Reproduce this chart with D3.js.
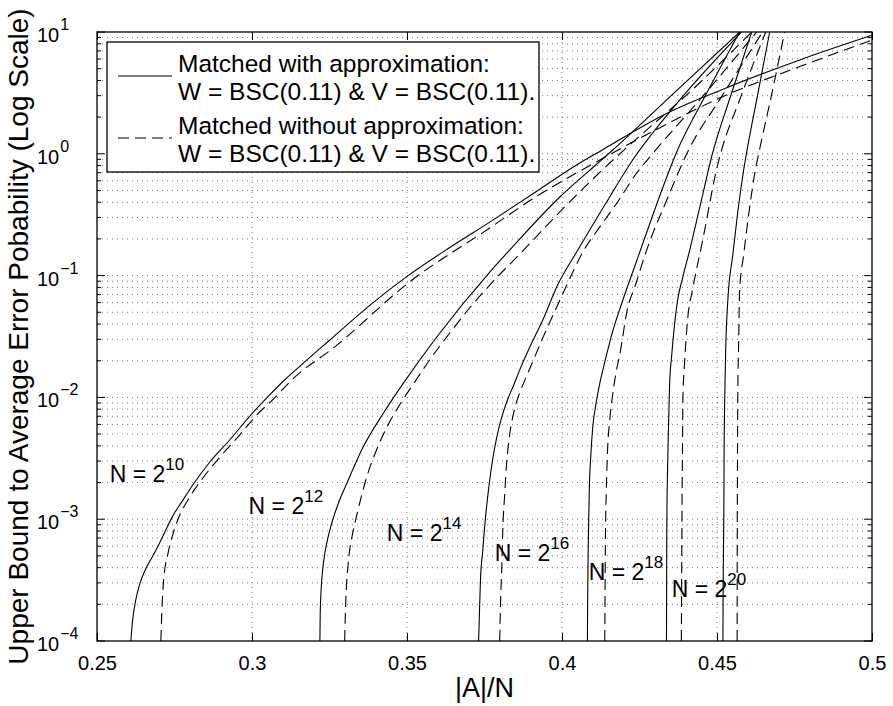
<!DOCTYPE html>
<html>
<head>
<meta charset="utf-8">
<script src="https://cdn.jsdelivr.net/npm/d3@7"></script>
<style>
  html, body { margin: 0; padding: 0; background: #fff; }
  svg { display: block; font-family: "Liberation Sans", Arial, Helvetica, sans-serif; }
</style>
</head>
<body>
<svg id="chart"></svg>
<script>
// ---- data: x = |A|/N, y = upper bound (log scale) ----
const xTicks = [0.25, 0.3, 0.35, 0.4, 0.45, 0.5];
const yExponents = [-4, -3, -2, -1, 0, 1];

const approx10 = [[0.2609,1e-4],[0.2615,1.49e-4],[0.2625,2.17e-4],[0.2638,2.94e-4],[0.2657,3.9e-4],[0.2680,4.99e-4],[0.2702,6.38e-4],[0.2722,8.15e-4],[0.2744,1.06e-3],[0.2773,1.38e-3],[0.2809,1.91e-3],[0.2864,2.95e-3],[0.2928,4.47e-3],[0.2993,7.03e-3],[0.3057,1.05e-2],[0.3105,1.39e-2],[0.3154,1.8e-2],[0.3251,2.96e-2],[0.3380,5.7e-2],[0.3499,9.8e-2],[0.3638,0.17],[0.3767,0.275],[0.3905,0.468],[0.4047,0.81],[0.4131,1.08],[0.4251,1.63],[0.4347,2.2],[0.4508,3.3],[0.4767,5.9],[0.5,9.4]];
const exact10 = [[0.2706,1e-4],[0.2709,1.7e-4],[0.2715,3.17e-4],[0.2728,5.1e-4],[0.2744,7.4e-4],[0.2760,9.8e-4],[0.2799,1.52e-3],[0.2844,2.22e-3],[0.2902,3.36e-3],[0.2960,4.91e-3],[0.3015,7.16e-3],[0.3073,9.9e-3],[0.3128,1.39e-2],[0.3267,2.6e-2],[0.3509,8.9e-2],[0.3767,0.246],[0.3905,0.426],[0.4122,0.889],[0.4283,1.48],[0.4508,2.87],[0.4767,5.2],[0.5,8.6]];

const approx12 = [[0.3219,1e-4],[0.3220,1.63e-4],[0.3223,2.62e-4],[0.3228,3.83e-4],[0.3235,5.28e-4],[0.3247,7.4e-4],[0.3260,9.8e-4],[0.3279,1.36e-3],[0.3305,1.95e-3],[0.3357,3.85e-3],[0.3422,7.3e-3],[0.3493,1.36e-2],[0.3596,3.13e-2],[0.3767,0.107],[0.3831,0.162],[0.3993,0.442],[0.4109,0.809],[0.4164,1.075],[0.4251,1.72],[0.4347,2.92],[0.4573,10]];
const exact12 = [[0.3299,1e-4],[0.3301,1.63e-4],[0.3304,2.62e-4],[0.3309,3.97e-4],[0.3315,5.58e-4],[0.3325,7.71e-4],[0.3338,1.08e-3],[0.3354,1.58e-3],[0.3373,2.35e-3],[0.3399,3.56e-3],[0.3434,5.61e-3],[0.3476,8.67e-3],[0.3518,1.26e-2],[0.3573,2.03e-2],[0.3638,3.38e-2],[0.3702,5.42e-2],[0.3767,8.37e-2],[0.3873,0.159],[0.3993,0.333],[0.4154,0.84],[0.4251,1.4],[0.4412,3.21],[0.4612,10]];

const approx14 = [[0.3731,1e-4],[0.3734,1.8e-4],[0.3737,3.17e-4],[0.3744,5.38e-4],[0.3754,1.08e-3],[0.3764,1.84e-3],[0.3776,3.06e-3],[0.3789,4.64e-3],[0.3805,6.78e-3],[0.3824,9.52e-3],[0.3844,1.26e-2],[0.3866,1.74e-2],[0.3895,2.55e-2],[0.3938,4.32e-2],[0.3986,8.37e-2],[0.4051,0.162],[0.4138,0.38],[0.4228,0.889],[0.4380,2.77],[0.4579,10]];
const exact14 = [[0.3799,1e-4],[0.3802,2.17e-4],[0.3806,4.2e-4],[0.3809,8.15e-4],[0.3815,1.58e-3],[0.3821,2.79e-3],[0.3831,4.91e-3],[0.3844,7.45e-3],[0.3860,1.03e-2],[0.3883,1.44e-2],[0.3905,1.95e-2],[0.3938,3.08e-2],[0.3983,5.52e-2],[0.4035,0.107],[0.4067,0.156],[0.4122,0.251],[0.4177,0.394],[0.4241,0.695],[0.4283,0.94],[0.4444,2.77],[0.4628,10]];

const approx16 = [[0.4082,1e-4],[0.4083,2.62e-4],[0.4085,6.74e-4],[0.4088,1.74e-3],[0.4093,3.36e-3],[0.4099,5.61e-3],[0.4109,8.67e-3],[0.4122,1.31e-2],[0.4138,1.95e-2],[0.4160,3.25e-2],[0.4193,5.96e-2],[0.4235,0.12],[0.4276,0.237],[0.4321,0.495],[0.4370,1.035],[0.4460,2.92],[0.4573,10]];
const exact16 = [[0.4138,1e-4],[0.4139,2.62e-4],[0.4140,6.74e-4],[0.4143,1.74e-3],[0.4147,3.7e-3],[0.4154,6.52e-3],[0.4162,9.9e-3],[0.4173,1.53e-2],[0.4189,2.45e-2],[0.4209,5.02e-2],[0.4238,8.53e-2],[0.4273,0.162],[0.4338,0.418],[0.4412,1.12],[0.4508,2.77],[0.4647,10]];

const approx18 = [[0.4337,1e-4],[0.43375,2.62e-4],[0.4338,8.15e-4],[0.4342,3.92e-3],[0.4347,1.26e-2],[0.4354,2.23e-2],[0.4362,3.72e-2],[0.4373,6.3e-2],[0.4389,9.55e-2],[0.4412,0.162],[0.4444,0.359],[0.4486,1.02],[0.4541,2.83],[0.4612,10]];
const exact18 = [[0.4385,1e-4],[0.4386,3.17e-4],[0.4387,1.12e-3],[0.4389,4.47e-3],[0.4390,9.9e-3],[0.4396,2.03e-2],[0.4405,4.31e-2],[0.4421,7.62e-2],[0.4454,0.196],[0.4502,0.809],[0.4515,1.075],[0.4573,2.77],[0.4657,10]];

const approx20 = [[0.4519,1e-4],[0.4520,3.17e-4],[0.4522,1.12e-3],[0.4523,3.7e-3],[0.4525,9.9e-3],[0.4528,2.45e-2],[0.4535,6.3e-2],[0.4551,0.148],[0.4567,0.333],[0.4586,0.736],[0.4606,1.43],[0.4628,2.77],[0.4670,10]];
const exact20 = [[0.4565,1e-4],[0.45652,4.62e-4],[0.4566,2.54e-3],[0.4567,9.9e-3],[0.4570,2.96e-2],[0.4573,7.62e-2],[0.4586,0.148],[0.4602,0.315],[0.4621,0.67],[0.4644,1.3],[0.4676,3.04],[0.4718,10]];

const blockExponents = [10, 12, 14, 16, 18, 20];
// where each "N = 2^k" annotation starts (x, baseline value)
const labelAnchors = [[0.2541,2.02e-3],[0.2989,1.1e-3],[0.3435,6.6e-4],[0.3783,4.5e-4],[0.4086,3.17e-4],[0.4354,2.3e-4]];

const legendLines = [
  ['Matched with approximation:', 'W = BSC(0.11) & V = BSC(0.11).'],
  ['Matched without approximation:', 'W = BSC(0.11) & V = BSC(0.11).']
];

// ---- layout ----
const W = 893, H = 706;
const margin = { top: 32, right: 21, bottom: 65, left: 97 };
const iW = W - margin.left - margin.right;
const iH = H - margin.top - margin.bottom;
const DASH = '11,6';

const svg = d3.select('#chart').attr('width', W).attr('height', H);
const g = svg.append('g').attr('transform', `translate(${margin.left},${margin.top})`);

const x = d3.scaleLinear().domain([0.25, 0.5]).range([0, iW]);
const y = d3.scaleLog().domain([1e-4, 10]).range([iH, 0]);

svg.append('defs').append('clipPath').attr('id', 'plot-clip')
  .append('rect').attr('width', iW).attr('height', iH);

// grid: major x, major + minor y (dotted, matlab style)
const minorY = [];
yExponents.slice(0, -1).forEach((e) => {
  for (let m = 1; m <= 9; m++) minorY.push(m * Math.pow(10, e));
});

const grid = g.append('g').attr('stroke', '#555').attr('stroke-width', 0.8).attr('stroke-dasharray', '1,4');
grid.selectAll('line.gx')
  .data(xTicks.slice(1, -1))
  .join('line')
  .attr('x1', (d) => x(d)).attr('x2', (d) => x(d))
  .attr('y1', 0).attr('y2', iH);
grid.selectAll('line.gy')
  .data(minorY.filter((v) => v > 1e-4))
  .join('line')
  .attr('x1', 0).attr('x2', iW)
  .attr('y1', (d) => y(d)).attr('y2', (d) => y(d));

// curves
const line = d3.line()
  .x((d) => x(d[0]))
  .y((d) => y(d[1]))
  .curve(d3.curveMonotoneX);

const series = [
  approx10, exact10, approx12, exact12, approx14, exact14,
  approx16, exact16, approx18, exact18, approx20, exact20
].map((pts, i) => ({ pts, dashed: i % 2 === 1 }));

g.append('g').attr('clip-path', 'url(#plot-clip)')
  .selectAll('path')
  .data(series)
  .join('path')
  .attr('d', (d) => line(d.pts))
  .attr('fill', 'none')
  .attr('stroke', '#000')
  .attr('stroke-width', 1.1)
  .attr('stroke-dasharray', (d) => (d.dashed ? DASH : null));

// frame + inward ticks
g.append('rect').attr('width', iW).attr('height', iH)
  .attr('fill', 'none').attr('stroke', '#000').attr('stroke-width', 1.3);

g.append('g')
  .attr('transform', `translate(0,${iH})`)
  .call(d3.axisBottom(x).tickValues(xTicks).tickSize(-8).tickPadding(15).tickFormat(d3.format('')))
  .call((a) => a.select('.domain').remove())
  .call((a) => a.selectAll('line').attr('stroke', '#000'))
  .call((a) => a.selectAll('text').attr('fill', '#000').attr('font-size', 20)
    .attr('font-family', '"Liberation Sans", Arial, sans-serif'));

g.append('g')
  .call(d3.axisTop(x).tickValues(xTicks).tickSize(-8).tickFormat(''))
  .call((a) => a.select('.domain').remove())
  .call((a) => a.selectAll('line').attr('stroke', '#000'));

const yMajor = yExponents.map((e) => Math.pow(10, e));
const yMinorOnly = minorY.filter((v) => !yMajor.some((m) => Math.abs(m - v) / m < 1e-9));

[0, iW].forEach((x0) => {
  const dir = x0 === 0 ? 1 : -1;
  g.append('g').selectAll('line')
    .data(yMajor)
    .join('line')
    .attr('x1', x0).attr('x2', x0 + dir * 8)
    .attr('y1', (d) => y(d)).attr('y2', (d) => y(d))
    .attr('stroke', '#000');
  g.append('g').selectAll('line')
    .data(yMinorOnly)
    .join('line')
    .attr('x1', x0).attr('x2', x0 + dir * 4)
    .attr('y1', (d) => y(d)).attr('y2', (d) => y(d))
    .attr('stroke', '#000');
});

// y tick labels 10^k
const yLab = g.append('g').attr('font-size', 20).attr('fill', '#000');
yExponents.forEach((e) => {
  const t = yLab.append('text')
    .attr('x', -60)
    .attr('y', y(Math.pow(10, e)) + 10);
  t.append('tspan').text('10');
  t.append('tspan')
    .attr('font-size', 16)
    .attr('dx', 1)
    .attr('dy', -12)
    .text(e < 0 ? `\u2212${-e}` : `${e}`);
});

// axis titles
svg.append('text')
  .attr('x', margin.left + iW / 2)
  .attr('y', 697)
  .attr('text-anchor', 'middle')
  .attr('font-size', 27)
  .text('|A|/N');

svg.append('text')
  .attr('transform', `translate(28,${margin.top + iH / 2}) rotate(-90)`)
  .attr('text-anchor', 'middle')
  .attr('font-size', 28)
  .text('Upper Bound to Average Error Pobability (Log Scale)');

// N = 2^k annotations
const ann = g.append('g').attr('font-size', 23).attr('fill', '#000');
labelAnchors.forEach((p, i) => {
  const t = ann.append('text').attr('x', x(p[0])).attr('y', y(p[1]));
  t.append('tspan').text('N = 2');
  t.append('tspan').attr('font-size', 17).attr('dy', -12).text(blockExponents[i]);
});

// legend
const leg = svg.append('g').attr('transform', 'translate(107,42)');
leg.append('rect').attr('width', 432).attr('height', 130)
  .attr('fill', '#fff').attr('stroke', '#000').attr('stroke-width', 1.3);
legendLines.forEach((rows, i) => {
  const top = i * 62;
  leg.append('line')
    .attr('x1', 11).attr('x2', 65)
    .attr('y1', top + 34).attr('y2', top + 34)
    .attr('stroke', '#000').attr('stroke-width', 1.1)
    .attr('stroke-dasharray', i === 1 ? DASH : null);
  rows.forEach((s, j) => {
    leg.append('text')
      .attr('x', 71)
      .attr('y', top + 30 + j * 27.5)
      .attr('font-size', 24.5)
      .text(s);
  });
});
</script>
</body>
</html>
